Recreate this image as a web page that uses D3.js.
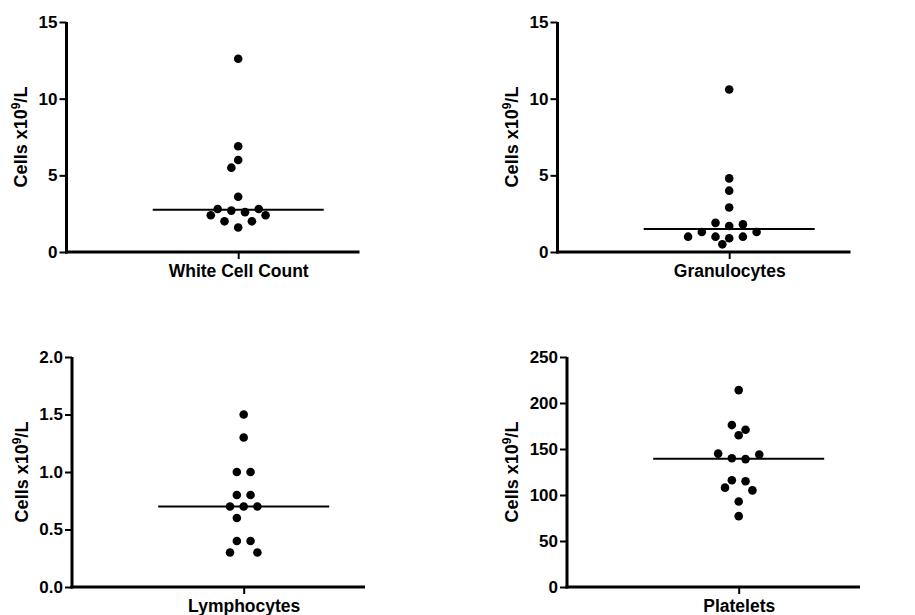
<!DOCTYPE html>
<html>
<head>
<meta charset="utf-8">
<script src="https://cdn.jsdelivr.net/npm/d3@7"></script>
<style>
  body { margin: 0; background: #fff; }
  svg { display: block; }
</style>
</head>
<body>
<svg id="chart" width="915" height="615"></svg>
<script>
// values
const categories = ["White Cell Count", "Granulocytes", "Lymphocytes", "Platelets"]
const whiteCellCount = [12.6, 6.9, 6.0, 5.5, 3.6, 2.8, 2.7, 2.6, 2.8, 2.4, 2.4, 2.0, 2.0, 1.6]
const granulocytes = [10.6, 4.8, 4.0, 2.9, 1.8, 1.7, 1.9, 1.3, 1.0, 1.0, 0.9, 1.0, 1.3, 0.5]
const lymphocytes = [1.5, 1.3, 1.0, 1.0, 0.8, 0.8, 0.7, 0.7, 0.7, 0.6, 0.4, 0.4, 0.3, 0.3]
const platelets = [214, 176, 171, 165, 145, 144, 140, 139, 115, 116, 105, 108, 93, 77]

const wbcTicks = [0, 5, 10, 15]
const granTicks = [0, 5, 10, 15]
const lymphTicks = [0, 0.5, 1.0, 1.5, 2.0]
const pltTicks = [0, 50, 100, 150, 200, 250]

const yTitle = "Cells x10"

const panels = [
  { name: categories[0], values: whiteCellCount, ticks: wbcTicks, fmt: d3.format("d"), x0: 66.5, top: 22, bottom: 252, titleX: 27 },
  { name: categories[1], values: granulocytes, ticks: granTicks, fmt: d3.format("d"), x0: 557.5, top: 22, bottom: 252, titleX: 518 },
  { name: categories[2], values: lymphocytes, ticks: lymphTicks, fmt: d3.format(".1f"), x0: 72, top: 357, bottom: 587, titleX: 28 },
  { name: categories[3], values: platelets, ticks: pltTicks, fmt: d3.format("d"), x0: 567, top: 357, bottom: 587, titleX: 518 }
]

const axisLen = 293
const tickAlign = 0.586
const halfStep = 6.85
const dotR = 4.3
const rowTol = 6       // px, points closer than this start in the same row
const sameColGap = 12  // px needed between dots in the same column
const nextColGap = 5   // px needed between dots in neighbouring columns
const font = "'Liberation Sans', Arial, Helvetica, sans-serif"

const svg = d3.select("#chart")

// row based swarm (prism style), offsets in half steps
function swarm(values, y) {
  const pts = values.map((v, i) => ({ v, i, py: y(v), k: 0 }))
  const order = pts.slice().sort((a, b) => a.py - b.py || a.i - b.i)
  const rows = []
  order.forEach(p => {
    const row = rows[rows.length - 1]
    if (row && p.py - row[0].py < rowTol) row.push(p)
    else rows.push([p])
  })
  const placed = []
  const free = (p, k) => placed.every(q => {
    const dk = Math.abs(k - q.k), dy = Math.abs(p.py - q.py)
    if (dk === 0) return dy >= sameColGap
    if (dk === 1) return dy >= nextColGap
    return true
  })
  rows.forEach(row => {
    row.sort((a, b) => b.v - a.v || a.i - b.i)
    const n = row.length
    const slots = []
    for (let m = n - 1; m > 0; m -= 2) slots.push(-m, m)
    if (n % 2) slots.push(0)
    row.forEach((p, j) => {
      let k = slots[j]
      if (k === 0) {
        // centre point: try 0, -1, +1, -2, +2 ...
        for (let s = 0; s < 40; s++) {
          const c = s === 0 ? 0 : (s % 2 ? -Math.ceil(s / 2) : s / 2)
          if (free(p, c)) { k = c; break }
        }
      } else {
        const dir = Math.sign(k)
        for (let s = 0; s < 40 && !free(p, k); s++) k += dir
      }
      p.k = k
      placed.push(p)
    })
  })
  return pts
}

panels.forEach(pn => {
  const y = d3.scaleLinear()
    .domain([0, d3.max(pn.ticks)])
    .range([pn.bottom, pn.top])

  const x = d3.scalePoint()
    .domain([pn.name])
    .range([pn.x0, pn.x0 + axisLen])
    .align(tickAlign)

  const g = svg.append("g")

  // y axis
  g.append("g")
    .attr("transform", `translate(${pn.x0},0)`)
    .call(d3.axisLeft(y).tickValues(pn.ticks).tickFormat(pn.fmt).tickSize(7).tickSizeOuter(0).tickPadding(2))
    .call(a => a.select(".domain").attr("stroke-width", 3).attr("d", `M0,${pn.top}V${pn.bottom + 1.5}`))
    .call(a => a.selectAll(".tick line").attr("stroke-width", 2))
    .call(a => a.selectAll(".tick text")
      .attr("font-family", font).attr("font-size", 17).attr("font-weight", "bold").attr("fill", "#000"))

  // x axis
  g.append("g")
    .attr("transform", `translate(0,${pn.bottom})`)
    .call(d3.axisBottom(x).tickSize(7).tickSizeOuter(0).tickPadding(6))
    .call(a => a.select(".domain").attr("stroke-width", 3).attr("d", `M${pn.x0 - 1.5},0H${pn.x0 + axisLen}`))
    .call(a => a.selectAll(".tick line").attr("stroke-width", 2))
    .call(a => a.selectAll(".tick text")
      .attr("font-family", font).attr("font-size", 17.5).attr("font-weight", "bold").attr("fill", "#000"))

  // y title
  const cy = (pn.top + pn.bottom) / 2
  const t = g.append("text")
    .attr("transform", `translate(${pn.titleX},${cy}) rotate(-90)`)
    .attr("text-anchor", "middle")
    .attr("font-family", font)
    .attr("font-size", 18)
    .attr("font-weight", "bold")
  t.append("tspan").text(yTitle)
  t.append("tspan").attr("font-size", 12).attr("dy", -7).text("9")
  t.append("tspan").attr("dy", 7).text("/L")

  // median line
  const med = d3.median(pn.values)
  const cx = x(pn.name)
  g.append("line")
    .attr("x1", cx - 85.5).attr("x2", cx + 85.5)
    .attr("y1", y(med)).attr("y2", y(med))
    .attr("stroke", "#000").attr("stroke-width", 2)

  // dots
  g.append("g")
    .selectAll("circle")
    .data(swarm(pn.values, y))
    .join("circle")
    .attr("cx", d => cx + d.k * halfStep)
    .attr("cy", d => d.py)
    .attr("r", dotR)
    .attr("fill", "#000")
})
</script>
</body>
</html>
